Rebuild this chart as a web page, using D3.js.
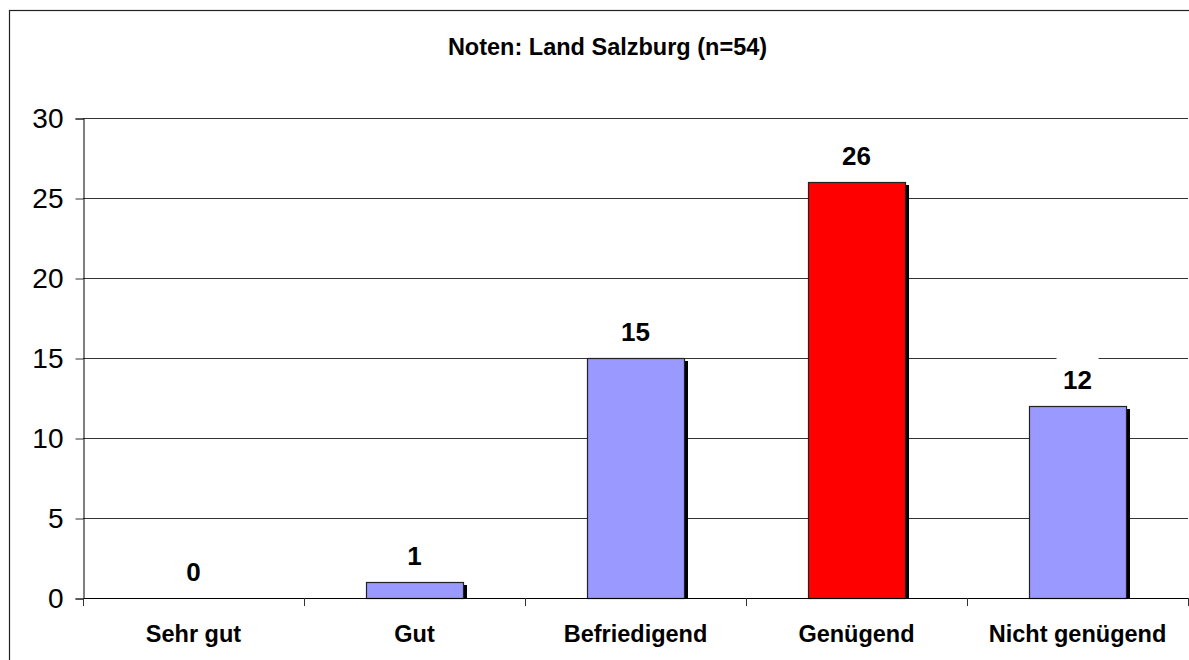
<!DOCTYPE html>
<html>
<head>
<meta charset="utf-8">
<script src="https://cdn.jsdelivr.net/npm/d3@7"></script>
<style>
  html, body { margin: 0; padding: 0; background: #fff; overflow: hidden; }
  svg { display: block; overflow: hidden; }
  text { font-family: Arial, "Liberation Sans", sans-serif; }
</style>
</head>
<body>
<svg id="chart" width="1189" height="660"></svg>
<script>
const categories = ["Sehr gut", "Gut", "Befriedigend", "Genügend", "Nicht genügend"];
const values = [0, 1, 15, 26, 12];
const barColors = ["#9999FF", "#9999FF", "#9999FF", "#FF0000", "#9999FF"];
const yTicks = [0, 5, 10, 15, 20, 25, 30];
const title = "Noten: Land Salzburg (n=54)";

const svg = d3.select("#chart");
const plot = { left: 83, right: 1188, top: 118, bottom: 598 };

// outer frame
svg.append("rect")
  .attr("x", 9.5).attr("y", 10.5)
  .attr("width", 1220).attr("height", 720)
  .attr("fill", "#fff").attr("stroke", "#222").attr("stroke-width", 1.2);

const x = d3.scaleBand().domain(categories).range([plot.left, plot.right]).paddingInner(0).paddingOuter(0);
const y = d3.scaleLinear().domain([0, 30]).range([plot.bottom, plot.top]);

// title
svg.append("text")
  .attr("x", 607.5).attr("y", 55)
  .attr("text-anchor", "middle")
  .attr("font-weight", "bold").attr("font-size", 23.5)
  .text(title);

// gridlines
svg.append("g").selectAll("line").data(yTicks.filter(d => d > 0)).join("line")
  .attr("x1", plot.left).attr("x2", plot.right)
  .attr("y1", d => Math.round(y(d)) + 0.5).attr("y2", d => Math.round(y(d)) + 0.5)
  .attr("stroke", "#333").attr("stroke-width", 1);

// y axis
const yAxis = d3.axisLeft(y).tickValues(yTicks).tickSize(8).tickPadding(12).tickFormat(d3.format("d"));
const gy = svg.append("g").attr("transform", `translate(${plot.left + 0.5},0.5)`).call(yAxis);
gy.select(".domain").attr("stroke", "#000");
gy.selectAll(".tick line").attr("stroke", "#333");
gy.selectAll(".tick text").attr("font-size", 28).attr("fill", "#000")
  .style("font-family", "Arial, 'Liberation Sans', sans-serif");

// bars
const bw = 97;
const bars = svg.append("g");
const sh = 4;
bars.selectAll("rect.shadow").data(categories).join("rect")
  .attr("class", "shadow")
  .attr("x", d => x(d) + x.bandwidth() / 2 - bw / 2 + sh)
  .attr("y", (d, i) => y(values[i]) + sh - 1)
  .attr("width", bw)
  .attr("height", (d, i) => Math.max(0, plot.bottom - (y(values[i]) + sh - 1)))
  .attr("fill", "#000")
  .attr("display", (d, i) => values[i] > 0 ? null : "none");
bars.selectAll("rect.bar").data(categories).join("rect")
  .attr("class", "bar")
  .attr("x", d => x(d) + x.bandwidth() / 2 - bw / 2 + 0.5)
  .attr("y", (d, i) => y(values[i]) + 0.5)
  .attr("width", bw)
  .attr("height", (d, i) => plot.bottom - y(values[i]))
  .attr("fill", (d, i) => barColors[i])
  .attr("stroke", "#222").attr("stroke-width", 1.2)
  .attr("display", (d, i) => values[i] > 0 ? null : "none");

// x axis
const xAxisLine = svg.append("g");
xAxisLine.append("line")
  .attr("x1", plot.left).attr("x2", plot.right)
  .attr("y1", plot.bottom + 0.5).attr("y2", plot.bottom + 0.5)
  .attr("stroke", "#000");
const boundaries = categories.map(d => x(d)).concat([x(categories[categories.length - 1]) + x.bandwidth()]);
xAxisLine.selectAll("line.tick").data(boundaries).join("line")
  .attr("class", "tick")
  .attr("x1", d => Math.round(d) + 0.5).attr("x2", d => Math.round(d) + 0.5)
  .attr("y1", plot.bottom).attr("y2", plot.bottom + 8)
  .attr("stroke", "#333");
svg.append("g").selectAll("text").data(categories).join("text")
  .attr("x", d => x(d) + x.bandwidth() / 2)
  .attr("y", 642)
  .attr("text-anchor", "middle")
  .attr("font-weight", "bold").attr("font-size", 23.5)
  .text(d => d);

// value labels
const lab = svg.append("g");
lab.selectAll("rect").data(categories).join("rect")
  .attr("x", d => x(d) + x.bandwidth() / 2 - 21)
  .attr("y", (d, i) => y(values[i]) - 17 - 31)
  .attr("width", 42).attr("height", 38)
  .attr("fill", "#fff");
lab.selectAll("text").data(categories).join("text")
  .attr("x", d => x(d) + x.bandwidth() / 2)
  .attr("y", (d, i) => y(values[i]) - 17)
  .attr("text-anchor", "middle")
  .attr("font-weight", "bold").attr("font-size", 26)
  .text((d, i) => values[i]);
</script>
</body>
</html>
